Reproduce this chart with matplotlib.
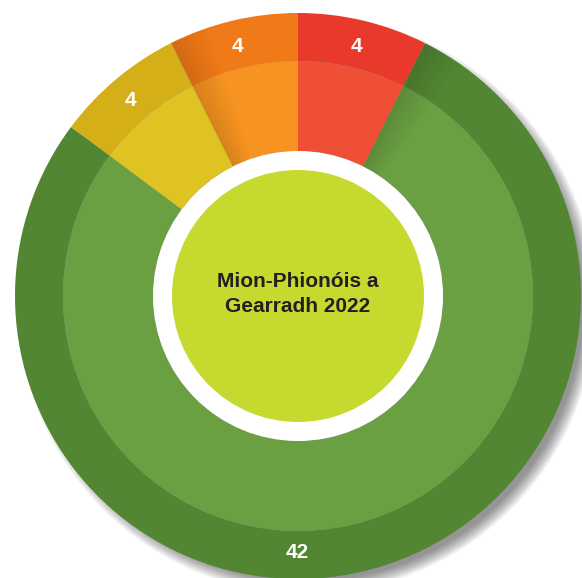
import matplotlib
matplotlib.use("Agg")
import matplotlib.pyplot as plt
from matplotlib.patches import Circle, Wedge
import numpy as np

# Data (clockwise from 12 o'clock)
categories = ["Dearg", "Glas", "Buí", "Oráiste"]
values = [4, 42, 4, 4]
labels = ["4", "42", "4", "4"]
outer_colors = ["#E8392A", "#528632", "#D4AF18", "#F07A17"]
inner_colors = ["#EF5035", "#6A9F42", "#DFC323", "#F79421"]
center_title = "Mion-Phionóis a\nGearradh 2022"

W, H = 582, 578
fig = plt.figure(figsize=(W / 100, H / 100), dpi=100)
ax = fig.add_axes([0, 0, 1, 1])

cx, cy = 298, H - 296
R_out, R_in, R_white, R_lime = 283, 235, 145, 126

# soft shadow bottom-right
for i in range(14):
    r = R_out + 6 - i * 1.0
    ax.add_patch(Circle((cx + 9, cy - 9), r, color="#000000", alpha=0.035, lw=0, zorder=0))

# outer ring
wedges, _ = ax.pie(values, colors=outer_colors, startangle=90, counterclock=False,
                   radius=R_out, center=(cx, cy), frame=True,
                   wedgeprops=dict(width=R_out - R_in, linewidth=0))
for w in wedges:
    w.set_zorder(2)
# inner ring
wedges2, _ = ax.pie(values, colors=inner_colors, startangle=90, counterclock=False,
                    radius=R_in, center=(cx, cy), frame=True,
                    wedgeprops=dict(width=R_in - R_white, linewidth=0))
for w in wedges2:
    w.set_zorder(2)

ax.set_xlim(0, W)
ax.set_ylim(0, H)
ax.set_aspect("equal")
ax.axis("off")

# subtle shading cast on the clockwise side of two boundaries
total = sum(values)
bounds = 90 - np.cumsum(values) / total * 360  # end angle of each slice
for b in (bounds[0], bounds[2]):
    steps = 10
    for k in range(steps):
        a1 = b - (k + 1) * 0.8
        a2 = b - k * 0.8
        ax.add_patch(Wedge((cx, cy), R_out, a1, a2, width=R_out - R_white,
                           color="black", alpha=0.12 * (1 - k / steps), lw=0, zorder=2.5))

ax.add_patch(Circle((cx, cy), R_white, color="white", lw=0, zorder=3))
ax.add_patch(Circle((cx, cy), R_lime, color="#C5D92E", lw=0, zorder=4))

# labels on outer ring (big slice label at the bottom)
ang = 90.0
r_lab = (R_out + R_in) / 2
for v, lab in zip(values, labels):
    span = v / total * 360
    mid = ang - span / 2
    if span > 180:
        mid = -90
    m = np.deg2rad(mid)
    ax.text(cx + r_lab * np.cos(m) - 1,
            cy + r_lab * np.sin(m) - 3 * np.sign(np.sin(m)), lab,
            color="white", fontsize=15, fontweight="bold",
            family=["Liberation Sans", "DejaVu Sans"],
            ha="center", va="center", zorder=5)
    ang -= span

ax.text(cx, cy + 2, center_title, color="#231F20", fontsize=15, fontweight="bold",
        family=["Liberation Sans", "DejaVu Sans"],
        ha="center", va="center", linespacing=1.45, zorder=5)

fig.savefig("out.png", dpi=100, facecolor="white")
